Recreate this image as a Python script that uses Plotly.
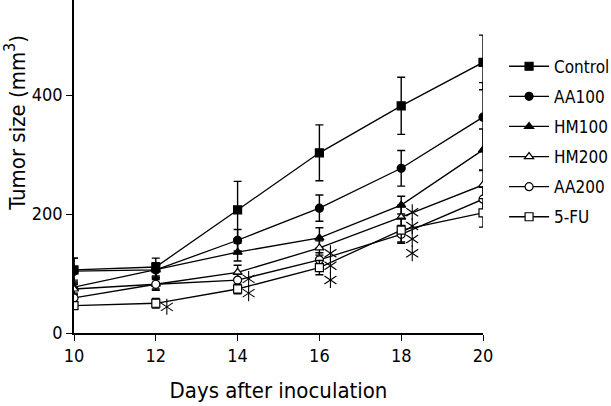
import plotly.graph_objects as go

days = [10, 12, 14, 16, 18, 20]
series_names = ["Control", "AA100", "HM100", "HM200", "AA200", "5-FU"]
control = [106, 111, 207, 303, 382, 455]
aa100 = [104, 106, 156, 210, 277, 363]
hm100 = [77, 106, 136, 160, 215, 308]
hm200 = [74, 82, 102, 143, 195, 249]
aa200 = [59, 82, 89, 123, 166, 225]
fu5 = [46, 50, 74, 110, 173, 202]
control_sd = [20, 15, 48, 47, 48, 46]
aa100_sd = [22, 12, 18, 22, 30, 58]
hm100_sd = [12, 12, 15, 17, 15, 35]
hm200_sd = [10, 10, 12, 12, 20, 25]
aa200_sd = [8, 8, 10, 12, 15, 20]
fu5_sd = [6, 8, 8, 12, 20, 24]

# significance asterisks (day, height)
ast_days = [12, 14, 14, 16, 16, 16, 18, 18, 18, 18, 20, 20, 20]
ast_vals = [44, 91, 67, 134, 113, 89, 203, 180, 158, 134, 249, 225, 202]
ast_shift = 0.27

values = [control, aa100, hm100, hm200, aa200, fu5]
sds = [control_sd, aa100_sd, hm100_sd, hm200_sd, aa200_sd, fu5_sd]
symbols = ["square", "circle", "triangle-up", "triangle-up", "circle", "square"]
fills = ["black", "black", "black", "white", "white", "white"]

FONT = "DejaVu Sans Condensed, DejaVu Sans"

fig = go.Figure()
for i, (name, v, sd) in enumerate(zip(series_names, values, sds)):
    fig.add_trace(go.Scatter(
        x=days, y=v, name=name, mode="lines+markers",
        line=dict(color="black", width=1.3),
        marker=dict(symbol=symbols[i], size=8, color=fills[i],
                    line=dict(color="black", width=1.2)),
        error_y=dict(type="data", array=sd, visible=True, color="black",
                     thickness=1.4, width=4),
        legendgroup=name,
    ))

ax = [d + ast_shift for d in ast_days]
for sym in ["y-up-open", "y-down-open"]:
    fig.add_trace(go.Scatter(
        x=ax, y=ast_vals, mode="markers", showlegend=False, hoverinfo="skip",
        marker=dict(symbol=sym, size=10, color="black",
                    line=dict(color="black", width=1.1)),
    ))

fig.update_layout(
    width=611, height=406,
    margin=dict(l=74, r=128, t=0, b=73),
    paper_bgcolor="white", plot_bgcolor="white",
    font=dict(family=FONT, color="black", size=18),
    showlegend=True,
    legend=dict(xref="container", yref="container", x=0.825, y=0.88,
                xanchor="left", yanchor="top",
                font=dict(family=FONT, size=17, color="black"),
                traceorder="grouped", tracegroupgap=5,
                itemwidth=40, bgcolor="rgba(0,0,0,0)"),
    annotations=[dict(
        text="Tumor size (mm<sup>3</sup>)", textangle=-90,
        xref="paper", yref="paper", x=-0.143, y=0.63,
        xanchor="center", yanchor="middle", showarrow=False,
        font=dict(family=FONT, size=22, color="black"),
    )],
)
fig.update_xaxes(
    range=[10, 20], tickvals=days, ticks="outside", ticklen=6,
    tickwidth=1.4, tickcolor="black",
    showline=True, linecolor="black", linewidth=1.5, showgrid=False,
    zeroline=False, tickfont=dict(size=18),
    title=dict(text="Days after inoculation", font=dict(size=22), standoff=17),
)
fig.update_yaxes(
    range=[0, 560], tickvals=[0, 200, 400], ticks="outside", ticklen=6,
    tickwidth=1.4, tickcolor="black",
    showline=True, linecolor="black", linewidth=1.5, showgrid=False,
    zeroline=False, tickfont=dict(size=18),
)

fig.write_html("out.html")
